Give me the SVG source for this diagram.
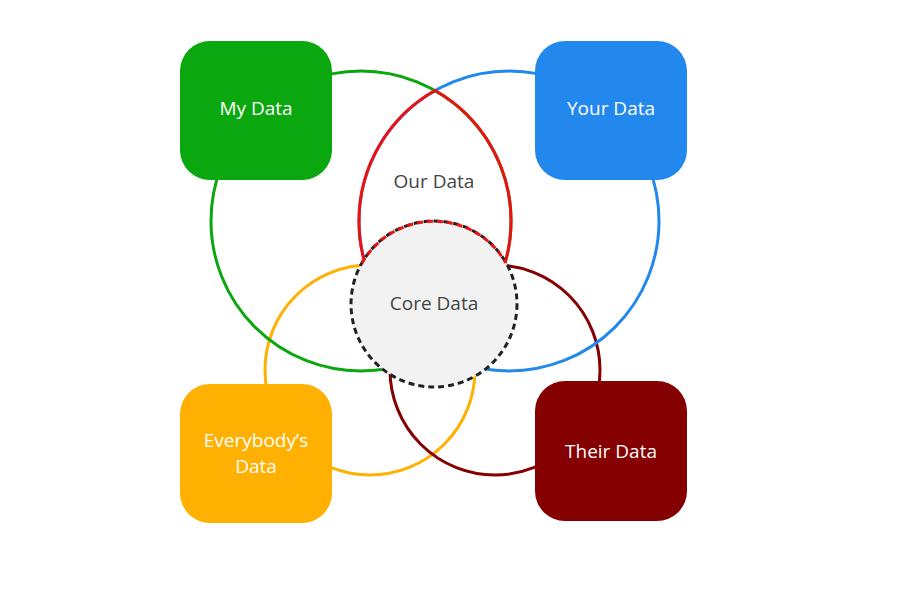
<svg xmlns="http://www.w3.org/2000/svg" width="908" height="595" viewBox="0 0 908 595">
<style>
.c{fill:none;stroke-width:3}
.box text,.lbl{font-family:"Open Sans","Noto Sans",sans-serif;font-size:19px;text-anchor:middle}
.box text{fill:#fff}
.lbl{fill:#444}
</style>
<rect width="908" height="595" fill="#fff"/>
<g id="connectors">
<circle class="c" cx="370" cy="370" r="105" stroke="#ffb000"/>
<circle class="c" cx="495" cy="370" r="105" stroke="#850000"/>
<circle class="c" cx="361" cy="221" r="150" stroke="#0aa70e"/>
<circle class="c" cx="509" cy="221" r="150" stroke="#2288ee"/>
<path class="c" stroke="#ee1111" d="M435 90.5 A150 150 0 0 0 435 351.5 A150 150 0 0 0 435 90.5Z"/>
</g>
<g id="core">
<circle cx="434" cy="304" r="83" fill="#f2f2f2" stroke="#222" stroke-width="3" stroke-dasharray="6 4"/>
<path d="M362 263 A83 83 0 0 1 506 263" fill="none" stroke="#ee1111" stroke-width="3" stroke-dasharray="6 4"/>
<text class="lbl" x="434" y="310">Core Data</text>
</g>
<g id="our"><text class="lbl" x="434" y="188">Our Data</text></g>
<g id="my" class="box"><rect x="180" y="41" width="152" height="139" rx="30" fill="#0aa70e"/><text x="256" y="115">My Data</text></g>
<g id="your" class="box"><rect x="535" y="41" width="152" height="139" rx="30" fill="#2288ee"/><text x="611" y="115">Your Data</text></g>
<g id="everybody" class="box"><rect x="180" y="384" width="152" height="139" rx="30" fill="#ffb000"/><text x="256" y="447">Everybody’s</text><text x="256" y="473">Data</text></g>
<g id="their" class="box"><rect x="535" y="381" width="152" height="140" rx="30" fill="#850000"/><text x="611" y="458">Their Data</text></g>
</svg>
